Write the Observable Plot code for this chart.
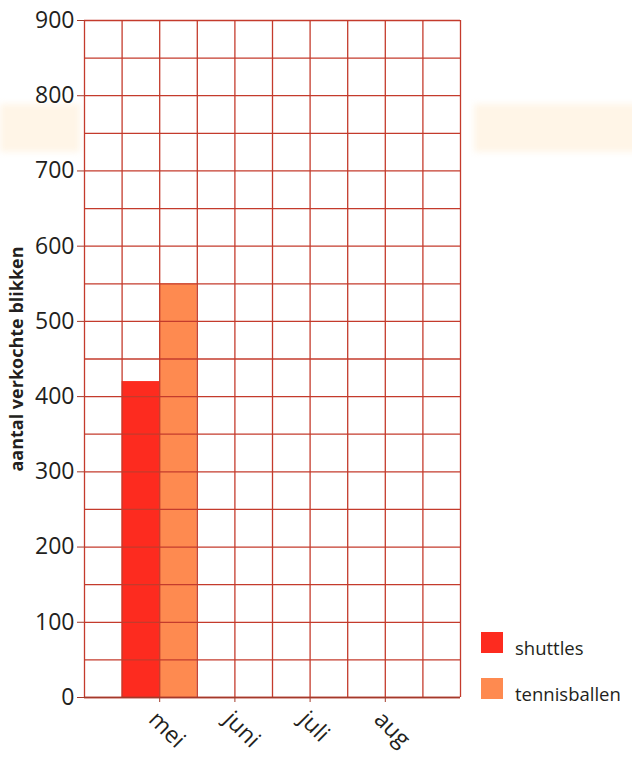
<!DOCTYPE html>
<html>
<head>
<meta charset="utf-8">
<script src="https://cdn.jsdelivr.net/npm/d3@7"></script>
<script src="https://cdn.jsdelivr.net/npm/@observablehq/plot@0.6"></script>
<style>
  html, body { margin: 0; padding: 0; background: white; }
  #wrap { position: relative; width: 632px; height: 757px; overflow: hidden; font-family: "Open Sans", "Noto Sans", sans-serif; }
  .band { position: absolute; top: 104px; height: 48px; background: #fff5e7; filter: blur(3px); }
  #chart { position: absolute; left: 0; top: 0; }
  #legend { position: absolute; left: 481px; top: 632px; font-size: 18.5px; color: #231f20; }
  .item { display: flex; align-items: center; height: 21px; margin-bottom: 25px; }
  .sw { width: 22px; height: 21px; margin-right: 12px; }
  .lab { position: relative; top: 5px; }
</style>
</head>
<body>
<div id="wrap">
  <div class="band" style="left:0; width:80px;"></div>
  <div class="band" style="left:474px; width:170px;"></div>
  <div id="chart"></div>
  <div id="legend"></div>
</div>
<script>
// Data
const months = ["mei", "juni", "juli", "aug"];
const shuttles = [420];
const tennisballen = [550];
const seriesNames = ["shuttles", "tennisballen"];
const seriesColors = ["#fd2b1f", "#fe8a50"];
const yTicks = [0, 100, 200, 300, 400, 500, 600, 700, 800, 900];

const gridColor = "#c43b2c";
const nCols = months.length * 2 + 2;
const monthPos = months.map((m, i) => 2 * (i + 1));

const bars = [];
shuttles.forEach((v, i) => bars.push({x1: monthPos[i] - 1, x2: monthPos[i], y: v, s: seriesNames[0]}));
tennisballen.forEach((v, i) => bars.push({x1: monthPos[i], x2: monthPos[i] + 1, y: v, s: seriesNames[1]}));

const plot = Plot.plot({
  width: 632,
  height: 757,
  marginTop: 20,
  marginBottom: 60,
  marginLeft: 84,
  marginRight: 172,
  style: {background: "transparent", fontFamily: "'Open Sans', 'Noto Sans', sans-serif", color: "#231f20"},
  x: {type: "linear", domain: [0, nCols]},
  y: {domain: [0, 900]},
  color: {domain: seriesNames, range: seriesColors},
  marks: [
    Plot.frame({fill: "white", stroke: null}),
    Plot.rectY(bars, {x1: "x1", x2: "x2", y: "y", fill: "s"}),
    Plot.gridY(d3.range(0, 901, 50), {stroke: gridColor, strokeOpacity: 1, strokeWidth: 1.3}),
    Plot.gridX(d3.range(0, nCols + 1), {stroke: gridColor, strokeOpacity: 1, strokeWidth: 1.3}),
    Plot.axisY(yTicks, {tickSize: 7, tickPadding: 3, fontSize: 23, stroke: "#a33a2a", fill: "#231f20", label: null}),
    Plot.text(["aantal verkochte blikken"], {
      frameAnchor: "left", textAnchor: "middle", dx: -67, rotate: -90, fontSize: 18, fontWeight: "bold", fill: "#231f20"
    }),
    // tick marks
    Plot.axisX(monthPos, {tickSize: 5, stroke: "#a33a2a", tickFormat: () => "", label: null}),
    // rotated month labels
    Plot.axisX(monthPos, {
      tickSize: 0, tickPadding: 11, tickRotate: 45, fontSize: 23, fill: "#231f20",
      dx: -7, dy: 7,
      tickFormat: (d) => months[monthPos.indexOf(d)], label: null
    }),
    Plot.ruleY([0], {stroke: "#a33a2a", strokeWidth: 1.6})
  ]
});
document.getElementById("chart").appendChild(plot);

const legend = document.getElementById("legend");
seriesNames.forEach((name, i) => {
  const item = document.createElement("div");
  item.className = "item";
  item.innerHTML = `<div class="sw" style="background:${seriesColors[i]}"></div><span class="lab">${name}</span>`;
  legend.appendChild(item);
});
</script>
</body>
</html>
